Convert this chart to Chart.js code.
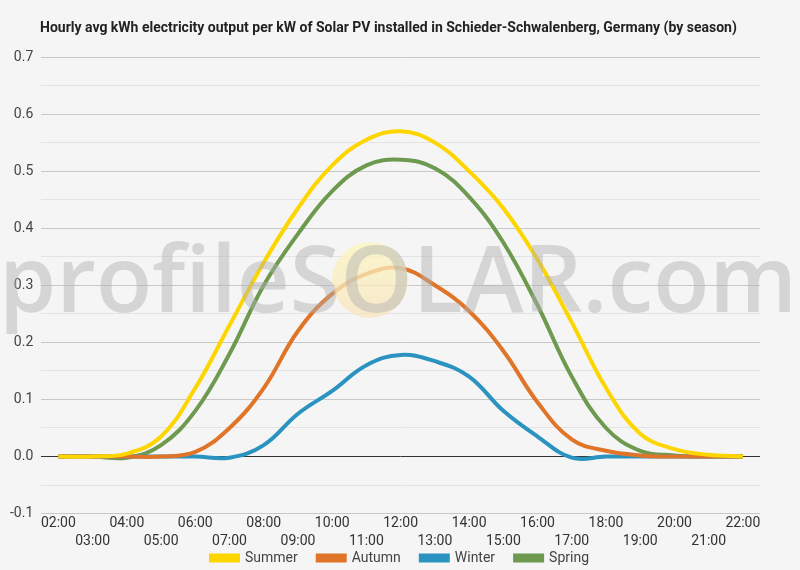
<!DOCTYPE html>
<html>
<head>
<meta charset="utf-8">
<script src="https://cdn.jsdelivr.net/npm/chart.js@4/dist/chart.umd.min.js"></script>
<style>
html,body{margin:0;padding:0;background:#f5f5f5;}
#wrap{width:800px;height:570px;position:relative;}
</style>
</head>
<body>
<div id="wrap"><canvas id="c" width="800" height="570"></canvas></div>
<script>
const hours = ["02:00","03:00","04:00","05:00","06:00","07:00","08:00","09:00","10:00","11:00","12:00","13:00","14:00","15:00","16:00","17:00","18:00","19:00","20:00","21:00","22:00"];
const summer = [0,0,0.005,0.035,0.12,0.23,0.34,0.435,0.51,0.555,0.57,0.55,0.50,0.435,0.345,0.235,0.12,0.04,0.013,0.003,0];
const autumn = [0,0,0,0,0.008,0.05,0.12,0.22,0.285,0.32,0.33,0.30,0.255,0.185,0.095,0.03,0.01,0.002,0,0,0];
const winter = [0,0,0,0,0,-0.002,0.02,0.075,0.115,0.16,0.178,0.167,0.14,0.08,0.035,-0.002,0,0,0,0,0];
const spring = [0,0,-0.002,0.02,0.08,0.18,0.30,0.39,0.465,0.51,0.52,0.505,0.455,0.375,0.265,0.14,0.05,0.01,0.002,0,0];
const titleText = "Hourly avg kWh electricity output per kW of Solar PV installed in Schieder-Schwalenberg, Germany (by season)";

const LEGEND_PAD = 20;
const LEGEND_H = 18;

const bgPlugin = {
  id:'bg',
  beforeLayout(chart){
    const lg = chart.legend;
    if (lg && !lg._patched){
      lg._patched = true;
      const f = lg.fit;
      lg.fit = function(){ f.call(this); this.height = LEGEND_H; };
      lg.draw = function(){
        const ctx = this.ctx;
        ctx.save();
        ctx.translate(19, 551 - (this.top + LEGEND_PAD));
        this._draw();
        ctx.restore();
      };
    }
  },
  beforeDraw(chart){
    const sx = chart.scales.x;
    if (sx) sx._computeLabelArea = function(){ return undefined; };
    const ctx = chart.ctx;
    ctx.save();
    ctx.fillStyle = '#f5f5f5';
    ctx.fillRect(0,0,chart.width,chart.height);
    ctx.restore();
  },
  afterDatasetsDraw(chart){
    const ctx = chart.ctx;
    ctx.save();
    const g = ctx.createLinearGradient(0,242,0,318);
    g.addColorStop(0,'rgba(252,246,190,0.75)');
    g.addColorStop(1,'rgba(248,228,190,0.75)');
    ctx.fillStyle = g;
    ctx.beginPath(); ctx.arc(370,280,38,0,Math.PI*2); ctx.fill();
    ctx.font = '600 92px "Open Sans", "DejaVu Sans", sans-serif';
    ctx.fillStyle = 'rgba(175,175,175,0.45)';
    ctx.textBaseline = 'alphabetic';
    ctx.textAlign = 'center';
    ctx.fillText('profileSOLAR.com', 398, 312);
    ctx.restore();
  },
  afterDraw(chart){
    const ctx = chart.ctx;
    ctx.save();
    ctx.font = 'bold 14px Roboto, sans-serif';
    ctx.fillStyle = '#222';
    ctx.textBaseline = 'middle';
    ctx.textAlign = 'left';
    ctx.fillText(titleText, 40, 28);
    ctx.restore();
  }
};

function ds(label, data, color){
  return {label, data, borderColor:color, backgroundColor:color, borderWidth:4, pointRadius:0, tension:0.4, fill:false};
}

new Chart(document.getElementById('c'), {
  type:'line',
  data:{
    labels: hours,
    datasets:[
      ds('Summer', summer, '#fdd600'),
      ds('Autumn', autumn, '#e0752a'),
      ds('Winter', winter, '#2b93c0'),
      ds('Spring', spring, '#6e9a50')
    ]
  },
  plugins:[bgPlugin],
  options:{
    responsive:false,
    animation:false,
    layout:{padding:{top:57,left:2,right:40,bottom:0}},
    plugins:{
      legend:{
        position:'bottom',
        labels:{boxWidth:27, boxHeight:5, color:'#444', font:{family:'Roboto', size:14}, padding:LEGEND_PAD}
      },
      tooltip:{enabled:false}
    },
    scales:{
      x:{
        offset:true,
        grid:{display:false, drawTicks:false},
        border:{display:false},
        ticks:{
          autoSkip:false, maxRotation:0, color:'#333', font:{family:'Roboto', size:14, lineHeight:1.3}, padding:1,
          callback:function(v,i){ return i%2===0 ? [hours[i], ''] : ['', hours[i]]; }
        }
      },
      y:{
        min:-0.1, max:0.7,
        border:{display:false},
        grid:{
          drawTicks:false,
          color:function(c){
            const v = Math.round(c.tick.value*100);
            if (v===0) return '#333';
            if (v%10===0) return '#c8c8c8';
            return '#e3e3e3';
          },
          lineWidth:1
        },
        ticks:{
          stepSize:0.05, color:'#444', font:{family:'Roboto', size:14}, padding:8,
          callback:function(v){ const r = Math.round(v*100); return r%10===0 ? (r/100).toFixed(1) : ''; }
        }
      }
    }
  }
});
</script>
</body>
</html>
